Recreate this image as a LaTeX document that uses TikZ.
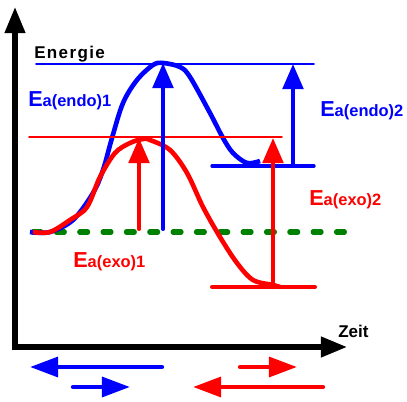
\documentclass[tikz,border=0pt]{standalone}
\usepackage{fontspec}
\setmainfont{Liberation Sans}
\usepackage{tkz-euclide}
\usetikzlibrary{arrows.meta,calc}
\definecolor{EndoClr}{RGB}{0,0,255}
\definecolor{ExoClr}{RGB}{255,0,0}
\definecolor{StartClr}{RGB}{0,128,0}
\newcommand{\Ea}[2]{{\fontsize{15.4}{16}\selectfont E}{\fontsize{11.7}{12}\selectfont a(#1)#2}}

\begin{document}
\begin{tikzpicture}[x=.025cm,y=.025cm,
  axisarrow/.style={line width=3.6pt,line join=miter,{Triangle[length=18.5pt,width=14pt]}-{Triangle[length=18.5pt,width=14pt]}},
  barrier/.style={line width=2.9pt,-{Triangle[length=17.8pt,width=14.5pt]}},
  timearrow/.style={line width=3.1pt,line cap=round,-{Triangle[length=20pt,width=14pt]}},
  curve/.style={line width=3.3pt,smooth,tension=.55},
  lbl/.style={inner sep=0pt,anchor=base west,font=\bfseries}]
\useasboundingbox (0,0) rectangle (407,401);
\tkzSetUpLine[line width=1.1pt,color=black]

\tkzDefPoints{15/54/O,15/394/Yend,347/54/Xend}
\tkzDefPoints{33/169/S1,352/169/S2}
\tkzDefPoints{36/337/TB1,314/337/TB2,29/264/TR1,282/264/TR2}
\tkzDefPoints{212/235/PB1,314/235/PB2,212/114/PR1,315/114/PR2}
\tkzDefPoints{163/172/AB1,163/338/AB2,293/235/AB3,293/337/AB4}
\tkzDefPoints{139/172/AR1,139/263/AR2,273/114/AR3,273/263/AR4}
\tkzDefPoints{162/34/LB1,30/34/LB2,73/14/RB1,130/14/RB2}
\tkzDefPoints{240/34/RR1,297/34/RR2,323/14/LR1,193/14/LR2}

% axes
\draw[axisarrow] (Yend) -- (O) -- (Xend);
\node[lbl,font=\fontsize{12.1}{13}\bfseries\addfontfeature{LetterSpace=8}] (energie) at (34,342) {Energie};
\node[lbl,font=\fontsize{12.1}{13}\bfseries] (zeit) at (338,63) {Zeit};

% start level
\tkzDrawSegments[line width=3.6pt,color=StartClr,line cap=round,dash pattern=on 5.7pt off 10.9pt](S1,S2)

% energy profiles
\draw[curve,EndoClr] plot coordinates {(30,169) (50,169) (73,181) (93,208) (103,231) (112,263) (123,298) (137,321) (153,336) (163,338) (180,334) (190,324) (210,288) (223,263) (233,248) (247,238) (260,240)};
\draw[curve,ExoClr] plot coordinates {(33,169) (50,169) (70,181) (87,194) (100,224) (115,248) (130,258) (143,262) (150,261) (170,251) (187,228) (203,194) (220,164) (237,138) (253,121) (273,116) (280,114)};

% levels
\tkzDrawSegments[color=EndoClr](TB1,TB2)
\tkzDrawSegments[color=ExoClr](TR1,TR2)
\tkzDrawSegments[line width=2.4pt,color=EndoClr](PB1,PB2)
\tkzDrawSegments[line width=2.8pt,color=ExoClr](PR1,PR2)

% activation energies
\tkzDrawSegments[barrier,color=EndoClr](AB1,AB2 AB3,AB4)
\tkzDrawSegments[barrier,color=ExoClr](AR1,AR2 AR3,AR4)

\node[lbl,EndoClr] (endo1) at (28,294) {\Ea{endo}{1}};
\node[lbl,EndoClr] (endo2) at (320,284) {\Ea{endo}{2}};
\node[lbl,ExoClr] (exo2) at (309,195) {\Ea{exo}{2}};
\node[lbl,ExoClr] (exo1) at (73,133) {\Ea{exo}{1}};

% directions
\tkzDrawSegments[timearrow,color=EndoClr](LB1,LB2 RB1,RB2)
\tkzDrawSegments[timearrow,color=ExoClr](RR1,RR2 LR1,LR2)

\end{tikzpicture}
\end{document}
